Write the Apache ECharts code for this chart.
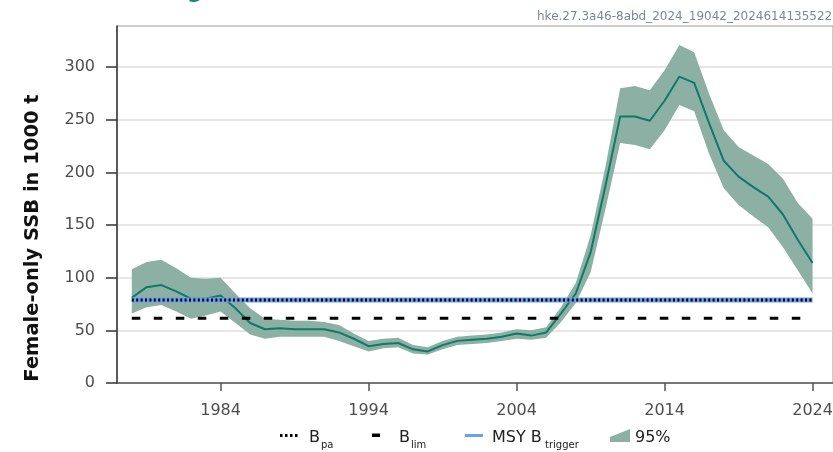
<!DOCTYPE html>
<html>
<head>
<meta charset="utf-8">
<script src="https://cdn.jsdelivr.net/npm/echarts@6/dist/echarts.min.js"></script>
<style>
  html, body { margin: 0; padding: 0; background: #fff; }
  #chart { width: 833px; height: 452px; }
</style>
</head>
<body>
<div id="chart"></div>
<script>
// years of the assessment
const years = [1978, 1979, 1980, 1981, 1982, 1983, 1984, 1985, 1986, 1987,
  1988, 1989, 1990, 1991, 1992, 1993, 1994, 1995, 1996, 1997,
  1998, 1999, 2000, 2001, 2002, 2003, 2004, 2005, 2006, 2007,
  2008, 2009, 2010, 2011, 2012, 2013, 2014, 2015, 2016, 2017,
  2018, 2019, 2020, 2021, 2022, 2023, 2024];
// female-only SSB, 1000 t
const ssb = [81, 91, 93, 87, 80, 80, 83, 71, 57, 51,
  52, 51, 51, 51, 48, 42, 35, 37, 38, 32,
  30, 36, 40, 41, 42, 44, 47, 45, 48, 66,
  85, 124, 187, 253, 253, 249, 268, 291, 285, 247,
  211, 196, 186, 177, 160, 136, 114];
const ssbLow = [66, 72, 74, 68, 61, 64, 68, 57, 46, 42,
  44, 44, 44, 44, 40, 35, 30, 33, 34, 28,
  27, 32, 36, 37, 38, 40, 42, 41, 43, 58,
  76, 105, 165, 228, 226, 222, 240, 264, 258, 218,
  185, 169, 158, 148, 129, 107, 85];
const ssbHigh = [108, 115, 117, 109, 100, 99, 100, 85, 71, 61,
  60, 59, 59, 58, 55, 47, 40, 42, 43, 36,
  34, 40, 44, 45, 46, 48, 51, 50, 53, 72,
  95, 140, 205, 280, 282, 278, 297, 321, 314, 275,
  240, 224, 216, 208, 194, 171, 156];
const bpa = 78.8;
const blim = 61.5;
const msyBtrigger = 78.8;
const xTicks = [1984, 1994, 2004, 2014, 2024];
const yTicks = [0, 50, 100, 150, 200, 250, 300];

const chart = echarts.init(document.getElementById('chart'));
const refRange = [years[0], years[years.length - 1]];
const font = 'DejaVu Sans';
const bandColor = '#8cb0a3';

let option = {
  animation: false,
  grid: {
    left: 117, top: 26, right: 0, bottom: 69,
    outerBoundsMode: 'none',
    show: true, borderColor: '#9a9a9a', borderWidth: 1
  },
  xAxis: {
    type: 'value', min: 1977, max: 2025.38,
    splitLine: { show: false },
    axisLine: { lineStyle: { color: '#555', width: 1.5 } },
    axisTick: { customValues: xTicks, length: 8, lineStyle: { color: '#555', width: 1.5 } },
    axisLabel: { customValues: xTicks, margin: 20, color: '#4d4d4d', fontSize: 16, fontFamily: font,
      formatter: v => String(v) }
  },
  yAxis: {
    type: 'value', min: 0, max: 339,
    axisLine: { show: true, lineStyle: { color: '#333', width: 1.5 } },
    axisTick: { show: true, customValues: yTicks, length: 11, lineStyle: { color: '#333', width: 1.5 } },
    axisLabel: { customValues: yTicks, margin: 22, color: '#4d4d4d', fontSize: 16, fontFamily: font },
    splitLine: { lineStyle: { color: '#dedede', width: 1.5 } }
  },
  series: [
    {
      // 95% band as one polygon: upper edge forward, lower edge back
      type: 'custom', silent: true,
      data: years.map((y, i) => [y, ssbLow[i], ssbHigh[i]]),
      renderItem: (params, api) => {
        if (params.dataIndex !== 0) return null;
        const top = years.map((y, i) => api.coord([y, ssbHigh[i]]));
        const bottom = years.map((y, i) => api.coord([y, ssbLow[i]])).reverse();
        return {
          type: 'polygon',
          shape: { points: top.concat(bottom) },
          style: { fill: bandColor }
        };
      },
      encode: { x: 0, y: [1, 2] }
    },
    {
      type: 'line', symbol: 'none',
      lineStyle: { color: '#0f7a68', width: 2 },
      data: years.map((y, i) => [y, ssb[i]])
    },
    {
      type: 'line', symbol: 'none',
      lineStyle: { color: '#6b9ff0', width: 5 },
      data: refRange.map(y => [y, msyBtrigger])
    },
    {
      type: 'line', symbol: 'none',
      lineStyle: { color: '#000', width: 3, type: [2, 2.4], cap: 'butt' },
      data: refRange.map(y => [y, bpa])
    },
    {
      type: 'line', symbol: 'none',
      lineStyle: { color: '#000', width: 3, type: [8.5, 13.5], cap: 'butt' },
      data: refRange.map(y => [y, blim])
    }
  ],
  graphic: [
    { type: 'text', x: 187, y: 3, style: { text: 'g', fontSize: 22, fontWeight: 'bold', fontFamily: font, fill: '#138a72', verticalAlign: 'bottom' } },
    { type: 'text', x: 537, y: 17, style: { text: 'hke.27.3a46-8abd_2024_19042_2024614135522', fontSize: 12, fontFamily: font, fill: '#7d8794', verticalAlign: 'middle' } },
    { type: 'text', x: 33, y: 238, rotation: Math.PI / 2, style: { text: 'Female-only SSB in 1000 t', fontSize: 19.5, fontWeight: 'bold', fontFamily: font, fill: '#111', align: 'center', verticalAlign: 'middle' } },
    // legend: Bpa
    { type: 'rect', shape: { x: 280, y: 434, width: 2.5, height: 3 }, style: { fill: '#000' } },
    { type: 'rect', shape: { x: 285, y: 434, width: 2.5, height: 3 }, style: { fill: '#000' } },
    { type: 'rect', shape: { x: 290, y: 434, width: 2.5, height: 3 }, style: { fill: '#000' } },
    { type: 'rect', shape: { x: 295, y: 434, width: 2.5, height: 3 }, style: { fill: '#000' } },
    { type: 'text', x: 309, y: 438, style: { text: 'B', fontSize: 16, fontFamily: font, fill: '#222', verticalAlign: 'middle' } },
    { type: 'text', x: 321, y: 445, style: { text: 'pa', fontSize: 10, fontFamily: font, fill: '#222', verticalAlign: 'middle' } },
    // legend: Blim
    { type: 'rect', shape: { x: 372, y: 433.5, width: 8, height: 3.5 }, style: { fill: '#000' } },
    { type: 'text', x: 399, y: 438, style: { text: 'B', fontSize: 16, fontFamily: font, fill: '#222', verticalAlign: 'middle' } },
    { type: 'text', x: 411, y: 445, style: { text: 'lim', fontSize: 10, fontFamily: font, fill: '#222', verticalAlign: 'middle' } },
    // legend: MSY Btrigger
    { type: 'rect', shape: { x: 465, y: 434, width: 18, height: 3 }, style: { fill: '#6b9ff0' } },
    { type: 'text', x: 492, y: 438, style: { text: 'MSY B', fontSize: 16, fontFamily: font, fill: '#222', verticalAlign: 'middle' } },
    { type: 'text', x: 545, y: 445, style: { text: 'trigger', fontSize: 10, fontFamily: font, fill: '#222', verticalAlign: 'middle' } },
    // legend: 95%
    { type: 'polygon', shape: { points: [[610, 437], [630, 429], [630, 442], [610, 442]] }, style: { fill: bandColor } },
    { type: 'text', x: 635, y: 438, style: { text: '95%', fontSize: 16, fontFamily: font, fill: '#222', verticalAlign: 'middle' } }
  ]
};
chart.setOption(option);
</script>
</body>
</html>
